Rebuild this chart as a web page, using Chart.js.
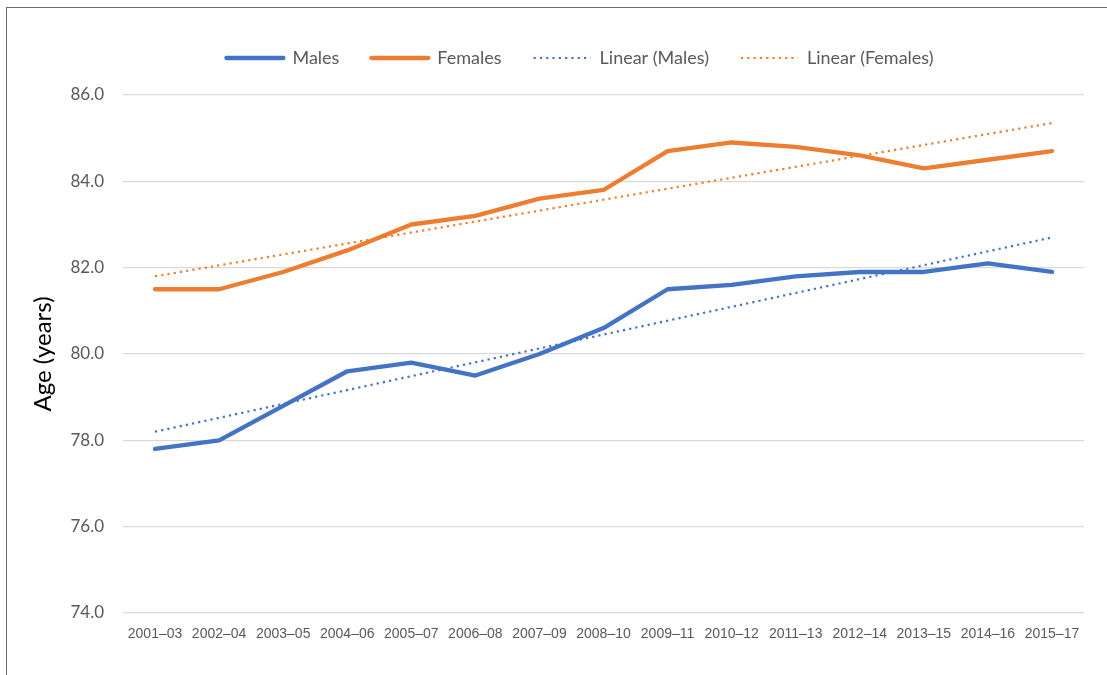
<!DOCTYPE html>
<html>
<head>
<meta charset="utf-8">
<script src="https://cdn.jsdelivr.net/npm/chart.js@4"></script>
<style>
  html, body { margin: 0; padding: 0; background: #fff; overflow: hidden; }
  #wrap { position: relative; width: 1107px; height: 675px; }
  #frame { position: absolute; left: 6px; top: 7px; width: 1300px; height: 900px; border: 1.5px solid #6a6a6a; }
  #box { position: absolute; left: 0; top: 0; width: 1107px; height: 675px; }
</style>
</head>
<body>
<div id="wrap">
  <div id="frame"></div>
  <div id="box"><canvas id="myChart"></canvas></div>
</div>
<script>
const periods = ["2001–03", "2002–04", "2003–05", "2004–06", "2005–07", "2006–08", "2007–09", "2008–10",
  "2009–11", "2010–12", "2011–13", "2012–14", "2013–15", "2014–16", "2015–17"];

const males = [77.8, 78.0, 78.8, 79.6, 79.8, 79.5, 80.0, 80.6, 81.5, 81.6, 81.8, 81.9, 81.9, 82.1, 81.9];
const females = [81.5, 81.5, 81.9, 82.4, 83.0, 83.2, 83.6, 83.8, 84.7, 84.9, 84.8, 84.6, 84.3, 84.5, 84.7];

// trend lines: only the two end values, the rest is spanned
const linearMales = [78.2, null, null, null, null, null, null, null, null, null, null, null, null, null, 82.7];
const linearFemales = [81.8, null, null, null, null, null, null, null, null, null, null, null, null, null, 85.35];

const yTicks = [74, 76, 78, 80, 82, 84, 86];

const blue = "#4472C4";
const orange = "#ED7D31";

const data = {
  labels: periods,
  datasets: [
    { label: "Males", data: males, borderColor: blue, backgroundColor: blue, borderWidth: 4.3,
      pointRadius: 0, tension: 0, borderJoinStyle: "round", borderCapStyle: "round" },
    { label: "Females", data: females, borderColor: orange, backgroundColor: orange, borderWidth: 4.3,
      pointRadius: 0, tension: 0, borderJoinStyle: "round", borderCapStyle: "round" },
    { label: "Linear (Males)", data: linearMales, borderColor: blue, backgroundColor: blue, borderWidth: 2.2,
      borderDash: [2.2, 4.1], pointRadius: 0, spanGaps: true },
    { label: "Linear (Females)", data: linearFemales, borderColor: orange, backgroundColor: orange, borderWidth: 2.2,
      borderDash: [2.2, 4.1], pointRadius: 0, spanGaps: true },
  ],
};

const legendSpace = {
  id: "legendSpace",
  beforeInit(chart) {
    const fit = chart.legend.fit;
    chart.legend.fit = function () {
      fit.bind(chart.legend)();
      this.height = 78;
    };
  },
  afterLayout(chart) {
    // legend sits a little right of centre in the original
    chart.legend.left += 38;
    chart.legend.right += 38;
  },
};

const config = {
  type: "line",
  data: data,
  plugins: [legendSpace],
  options: {
    responsive: true,
    maintainAspectRatio: false,
    animation: false,
    layout: { padding: { top: 17, right: 23, left: 0, bottom: 0 } },
    plugins: {
      tooltip: { enabled: false },
      legend: {
        position: "top",
        labels: {
          usePointStyle: true,
          pointStyle: "line",
          pointStyleWidth: 57,
          padding: 32,
          color: "#595959",
          font: { family: "Lato", size: 18 },
          generateLabels(chart) {
            const items = Chart.defaults.plugins.legend.labels.generateLabels(chart);
            items.forEach(item => {
              const ds = chart.data.datasets[item.datasetIndex];
              item.lineWidth = ds.borderWidth;
              item.lineDash = ds.borderDash || [];
              item.lineCap = ds.borderDash ? "butt" : "round";
              item.strokeStyle = ds.borderColor;
            });
            return items;
          },
        },
      },
    },
    scales: {
      x: {
        offset: true,
        grid: { display: false, drawTicks: false },
        border: { display: false },
        ticks: {
          color: "#595959",
          font: { family: "Liberation Sans", size: 14 },
          padding: 13,
          autoSkip: false,
          maxRotation: 0,
        },
        afterFit(scale) { scale.height = 62; },
      },
      y: {
        min: 74,
        max: 86,
        afterBuildTicks(scale) { scale.ticks = yTicks.map(v => ({ value: v })); },
        grid: { color: "#d9d9d9", lineWidth: 1.3, drawTicks: false },
        border: { display: false },
        ticks: {
          color: "#595959",
          font: { family: "Lato", size: 17 },
          padding: 19,
          callback: v => Number(v).toFixed(1),
        },
        title: {
          display: true,
          text: "Age (years)",
          color: "#000",
          font: { family: "Lato", size: 24 },
          padding: { top: 29, bottom: 0 },
        },
        afterFit(scale) { scale.width = 123; },
      },
    },
  },
};

const myChart = new Chart(document.getElementById("myChart"), config);
</script>
</body>
</html>
